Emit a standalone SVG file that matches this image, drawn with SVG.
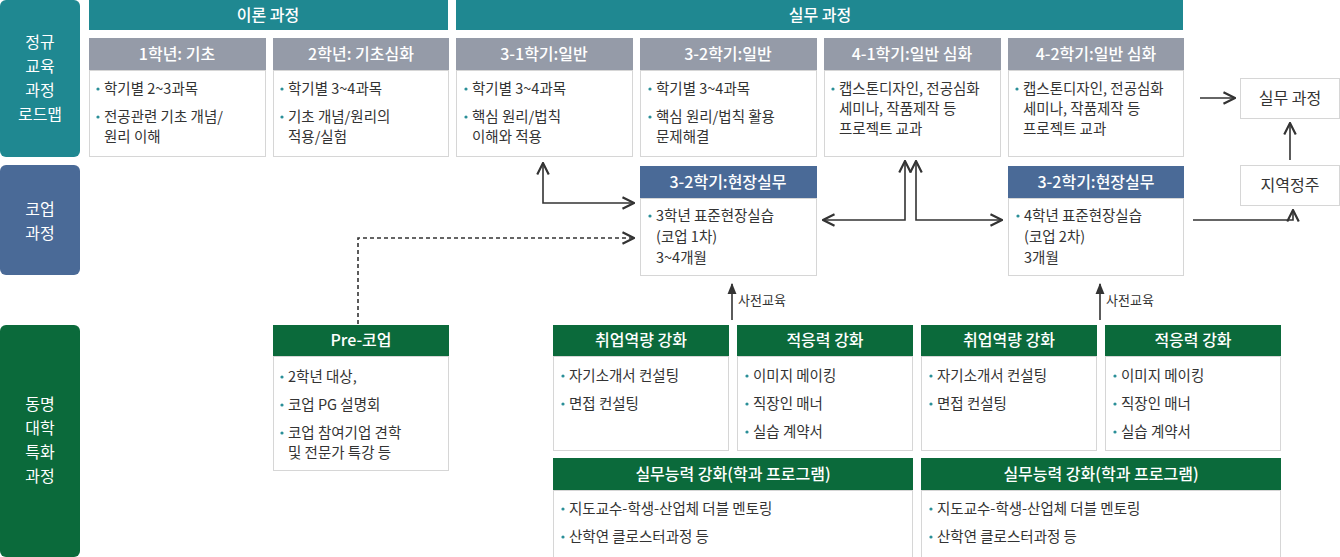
<svg xmlns="http://www.w3.org/2000/svg" width="1340" height="557" viewBox="0 0 1340 557">
<defs>
<style>
text{font-family:"Noto Sans CJK KR","Noto Sans",sans-serif;}
.side{font-size:16px;fill:#fff;text-anchor:middle;}
.h{font-size:16px;fill:#fff;text-anchor:middle;font-weight:500;}
.b{font-size:14.5px;fill:#333;}
.d{fill:#2a8f98;}
.body{fill:#fff;stroke:#d6d6d6;stroke-width:1;}
.ln{fill:none;stroke:#333;stroke-width:1.6;}
</style>
<marker id="ar" viewBox="0 0 10 10" refX="9" refY="5" markerWidth="9" markerHeight="9" orient="auto-start-reverse"><path d="M1,1 L9,5 L1,9" fill="none" stroke="#333" stroke-width="1.5"/></marker>
<marker id="af" viewBox="0 0 10 10" refX="9" refY="5" markerWidth="7" markerHeight="7" orient="auto"><path d="M0,1 L10,5 L0,9 Z" fill="#333"/></marker>
</defs>
<rect width="1340" height="557" fill="#fff"/>
<g id="side">
<rect x="0" y="0" width="80" height="157" rx="6" fill="#1f8891"/>
<text class="side" x="40" y="48">정규</text><text class="side" x="40" y="72">교육</text><text class="side" x="40" y="96">과정</text><text class="side" x="40" y="120">로드맵</text>
<rect x="0" y="165" width="80" height="110" rx="6" fill="#4a6a97"/>
<text class="side" x="40" y="215">코업</text><text class="side" x="40" y="239">과정</text>
<rect x="0" y="325" width="80" height="232" rx="6" fill="#0b6a3b"/>
<text class="side" x="40" y="410">동명</text><text class="side" x="40" y="434">대학</text><text class="side" x="40" y="458">특화</text><text class="side" x="40" y="482">과정</text>
</g>
<g id="top">
<rect x="89" y="0" width="359" height="30" fill="#1f8891"/><text class="h" x="268" y="21">이론 과정</text>
<rect x="456" y="0" width="727" height="30" fill="#1f8891"/><text class="h" x="820" y="21">실무 과정</text>
</g>
<g id="c1"><rect class="body" x="89.5" y="70.5" width="176" height="86"/><rect x="89" y="38" width="177" height="32" fill="#959ba8"/><text class="h" x="177" y="60">1학년: 기초</text>
<text class="b" x="104" y="94">학기별 2~3과목</text><text class="b" x="104" y="122">전공관련 기초 개념/</text><text class="b" x="104" y="142">원리 이해</text></g>
<g id="c2"><rect class="body" x="273.5" y="70.5" width="175" height="86"/><rect x="273" y="38" width="176" height="32" fill="#959ba8"/><text class="h" x="361" y="60">2학년: 기초심화</text>
<text class="b" x="288" y="94">학기별 3~4과목</text><text class="b" x="288" y="122">기초 개념/원리의</text><text class="b" x="288" y="142">적용/실험</text></g>
<g id="c3"><rect class="body" x="456.5" y="70.5" width="176" height="86"/><rect x="456" y="38" width="177" height="32" fill="#959ba8"/><text class="h" x="544" y="60">3-1학기:일반</text>
<text class="b" x="472" y="94">학기별 3~4과목</text><text class="b" x="472" y="122">핵심 원리/법칙</text><text class="b" x="472" y="142">이해와 적용</text></g>
<g id="c4"><rect class="body" x="640.5" y="70.5" width="176" height="86"/><rect x="640" y="38" width="177" height="32" fill="#959ba8"/><text class="h" x="728" y="60">3-2학기:일반</text>
<text class="b" x="656" y="94">학기별 3~4과목</text><text class="b" x="656" y="122">핵심 원리/법칙 활용</text><text class="b" x="656" y="142">문제해결</text></g>
<g id="c5"><rect class="body" x="824.5" y="70.5" width="176" height="86"/><rect x="824" y="38" width="177" height="32" fill="#959ba8"/><text class="h" x="912" y="60">4-1학기:일반 심화</text>
<text class="b" x="839" y="94">캡스톤디자인, 전공심화</text><text class="b" x="839" y="114">세미나, 작품제작 등</text><text class="b" x="839" y="134">프로젝트 교과</text></g>
<g id="c6"><rect class="body" x="1008.5" y="70.5" width="175" height="86"/><rect x="1008" y="38" width="176" height="32" fill="#959ba8"/><text class="h" x="1096" y="60">4-2학기:일반 심화</text>
<text class="b" x="1023" y="94">캡스톤디자인, 전공심화</text><text class="b" x="1023" y="114">세미나, 작품제작 등</text><text class="b" x="1023" y="134">프로젝트 교과</text></g>
<g id="job"><rect class="body" x="1240.5" y="78.5" width="99" height="40"/><text x="1290" y="104" font-size="16" fill="#333" text-anchor="middle">실무 과정</text></g>
<g id="local"><rect class="body" x="1240.5" y="165.5" width="99" height="40"/><text x="1290" y="191" font-size="16" fill="#333" text-anchor="middle">지역정주</text></g>
<g id="coop1"><rect class="body" x="640.5" y="198.5" width="176" height="77"/><rect x="640" y="166" width="177" height="32" fill="#4a6a97"/><text class="h" x="728" y="188">3-2학기:현장실무</text>
<text class="b" x="656" y="221">3학년 표준현장실습</text><text class="b" x="656" y="242">(코업 1차)</text><text class="b" x="656" y="263">3~4개월</text></g>
<g id="coop2"><rect class="body" x="1008.5" y="198.5" width="175" height="77"/><rect x="1008" y="166" width="176" height="32" fill="#4a6a97"/><text class="h" x="1096" y="188">3-2학기:현장실무</text>
<text class="b" x="1024" y="221">4학년 표준현장실습</text><text class="b" x="1024" y="242">(코업 2차)</text><text class="b" x="1024" y="263">3개월</text></g>
<g id="pre"><rect class="body" x="273.5" y="356.5" width="175" height="114"/><rect x="273" y="325" width="176" height="31" fill="#0b6a3b"/><text class="h" x="361" y="346">Pre-코업</text>
<text class="b" x="288" y="382">2학년 대상,</text><text class="b" x="288" y="410">코업 PG 설명회</text><text class="b" x="288" y="438">코업 참여기업 견학</text><text class="b" x="288" y="458">및 전문가 특강 등</text></g>
<g id="g1"><rect class="body" x="553.5" y="356.5" width="175" height="94"/><rect x="553" y="325" width="176" height="31" fill="#0b6a3b"/><text class="h" x="641" y="346">취업역량 강화</text>
<text class="b" x="569" y="381">자기소개서 컨설팅</text><text class="b" x="569" y="409">면접 컨설팅</text></g>
<g id="g2"><rect class="body" x="737.5" y="356.5" width="175" height="94"/><rect x="737" y="325" width="176" height="31" fill="#0b6a3b"/><text class="h" x="825" y="346">적응력 강화</text>
<text class="b" x="753" y="381">이미지 메이킹</text><text class="b" x="753" y="409">직장인 매너</text><text class="b" x="753" y="437">실습 계약서</text></g>
<g id="g3"><rect class="body" x="921.5" y="356.5" width="175" height="94"/><rect x="921" y="325" width="176" height="31" fill="#0b6a3b"/><text class="h" x="1009" y="346">취업역량 강화</text>
<text class="b" x="937" y="381">자기소개서 컨설팅</text><text class="b" x="937" y="409">면접 컨설팅</text></g>
<g id="g4"><rect class="body" x="1105.5" y="356.5" width="175" height="94"/><rect x="1105" y="325" width="176" height="31" fill="#0b6a3b"/><text class="h" x="1193" y="346">적응력 강화</text>
<text class="b" x="1121" y="381">이미지 메이킹</text><text class="b" x="1121" y="409">직장인 매너</text><text class="b" x="1121" y="437">실습 계약서</text></g>
<g id="w1"><rect class="body" x="553.5" y="490.5" width="359" height="67"/><rect x="553" y="458" width="360" height="32" fill="#0b6a3b"/><text class="h" x="733" y="480">실무능력 강화(학과 프로그램)</text>
<text class="b" x="569" y="514">지도교수-학생-산업체 더블 멘토링</text><text class="b" x="569" y="542">산학연 클로스터과정 등</text></g>
<g id="w2"><rect class="body" x="921.5" y="490.5" width="359" height="67"/><rect x="921" y="458" width="360" height="32" fill="#0b6a3b"/><text class="h" x="1101" y="480">실무능력 강화(학과 프로그램)</text>
<text class="b" x="937" y="514">지도교수-학생-산업체 더블 멘토링</text><text class="b" x="937" y="542">산학연 클로스터과정 등</text></g>
<g id="dots">
<circle class="d" cx="98" cy="89" r="1.6"/><circle class="d" cx="98" cy="117" r="1.6"/>
<circle class="d" cx="282" cy="89" r="1.6"/><circle class="d" cx="282" cy="117" r="1.6"/>
<circle class="d" cx="466" cy="89" r="1.6"/><circle class="d" cx="466" cy="117" r="1.6"/>
<circle class="d" cx="650" cy="89" r="1.6"/><circle class="d" cx="650" cy="117" r="1.6"/>
<circle class="d" cx="833" cy="89" r="1.6"/><circle class="d" cx="1017" cy="89" r="1.6"/>
<circle class="d" cx="650" cy="216" r="1.6"/><circle class="d" cx="1018" cy="216" r="1.6"/>
<circle class="d" cx="282" cy="377" r="1.6"/><circle class="d" cx="282" cy="405" r="1.6"/><circle class="d" cx="282" cy="433" r="1.6"/>
<circle class="d" cx="563" cy="376" r="1.6"/><circle class="d" cx="563" cy="404" r="1.6"/>
<circle class="d" cx="747" cy="376" r="1.6"/><circle class="d" cx="747" cy="404" r="1.6"/><circle class="d" cx="747" cy="432" r="1.6"/>
<circle class="d" cx="931" cy="376" r="1.6"/><circle class="d" cx="931" cy="404" r="1.6"/>
<circle class="d" cx="1115" cy="376" r="1.6"/><circle class="d" cx="1115" cy="404" r="1.6"/><circle class="d" cx="1115" cy="432" r="1.6"/>
<circle class="d" cx="563" cy="509" r="1.6"/><circle class="d" cx="563" cy="537" r="1.6"/>
<circle class="d" cx="931" cy="509" r="1.6"/><circle class="d" cx="931" cy="537" r="1.6"/>
</g>
<g id="connectors">
<path class="ln" d="M543,163 V203 H634" marker-start="url(#ar)" marker-end="url(#ar)"/>
<path class="ln" d="M358,324 V238 H634" stroke-dasharray="4,3" marker-end="url(#ar)"/>
<path class="ln" d="M823,220 H905 V161" marker-start="url(#ar)" marker-end="url(#ar)"/>
<path class="ln" d="M916,161 V220 H1002" marker-start="url(#ar)" marker-end="url(#ar)"/>
<path class="ln" d="M1200,98 H1235" marker-end="url(#ar)"/>
<path class="ln" d="M1290,160 V123" marker-end="url(#ar)"/>
<path class="ln" d="M1193,220 H1293 V210" marker-end="url(#ar)"/>
<path class="ln" d="M732,320 V284" marker-end="url(#af)"/>
<path class="ln" d="M1100,320 V284" marker-end="url(#af)"/>
<text x="738" y="305" font-size="13" fill="#333">사전교육</text>
<text x="1106" y="305" font-size="13" fill="#333">사전교육</text>
</g>
</svg>
